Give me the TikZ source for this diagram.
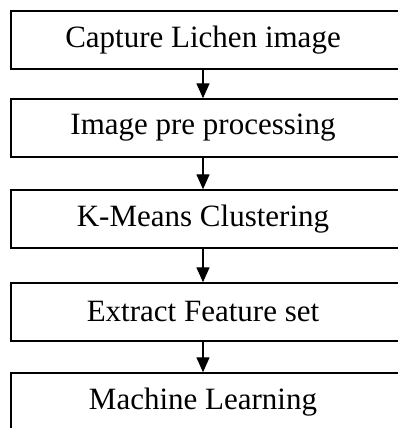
\documentclass[tikz,border=0pt]{standalone}
\usepackage{fontspec}
\setmainfont{Liberation Serif}
\usetikzlibrary{arrows.meta}
\begin{document}
\begin{tikzpicture}[x=1pt,y=1pt,
  stepbox/.style={draw=black, line width=1.4pt, fill=white, rectangle,
    minimum width=394pt, minimum height=58pt, inner sep=0pt},
  steptext/.style={inner sep=0pt, font=\fontsize{31}{36}\selectfont},
  flow/.style={line width=1.4pt, -{Triangle[width=13pt,length=15pt]}}]
  \useasboundingbox (0,0) rectangle (398,428);
  \clip (0,0) rectangle (398,428);
  % process boxes (right edge runs past the page)
  \node[stepbox] (b1) at (208,388) {};
  \node[stepbox] (b2) at (208,300) {};
  \node[stepbox] (b3) at (208,209) {};
  \node[stepbox] (b4) at (208,116) {};
  \node[stepbox] (b5) at (208,26) {};
  % step labels
  \node[steptext] (l1) at (203,388) {Capture Lichen image};
  \node[steptext] (l2) at (203,300) {Image pre processing};
  \node[steptext] (l3) at (203,209) {K-Means Clustering};
  \node[steptext] (l4) at (203,116) {Extract Feature set};
  \node[steptext] (l5) at (203,26) {Machine Learning};
  % arrows between consecutive steps
  \draw[flow] (b1.south -| l1) -- (b2.north -| l1);
  \draw[flow] (b2.south -| l2) -- (b3.north -| l2);
  \draw[flow] (b3.south -| l3) -- (b4.north -| l3);
  \draw[flow] (b4.south -| l4) -- (b5.north -| l4);
\end{tikzpicture}
\end{document}
